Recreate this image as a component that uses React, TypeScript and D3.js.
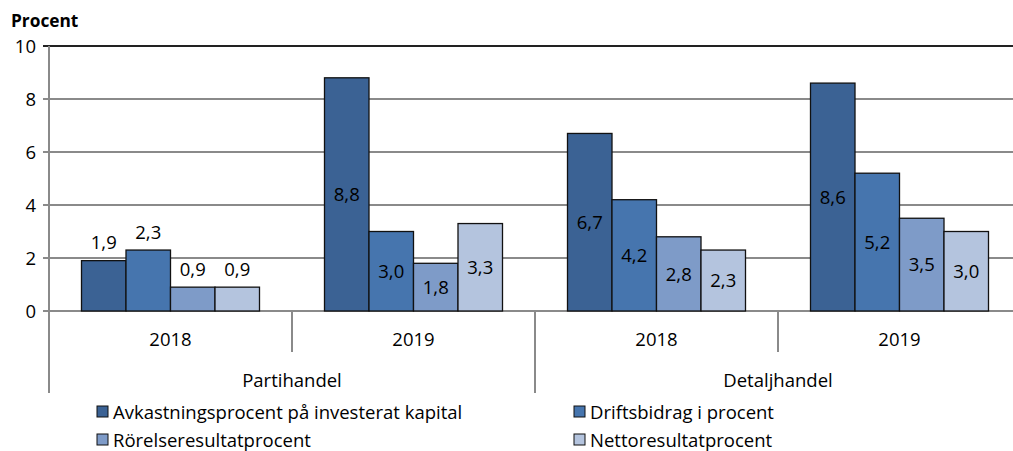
import React, { useEffect, useRef } from "react";
import * as d3 from "d3";

const industries = ["Partihandel", "Detaljhandel"];
const years = ["2018", "2019"];
const seriesNames = [
  "Avkastningsprocent på investerat kapital",
  "Driftsbidrag i procent",
  "Rörelseresultatprocent",
  "Nettoresultatprocent",
];
// values per group: [Partihandel 2018, Partihandel 2019, Detaljhandel 2018, Detaljhandel 2019]
const avkastning = [1.9, 8.8, 6.7, 8.6];
const driftsbidrag = [2.3, 3.0, 4.2, 5.2];
const rorelse = [0.9, 1.8, 2.8, 3.5];
const netto = [0.9, 3.3, 2.3, 3.0];
const labelAbove = [true, false, false, false];
const yTicks = [0, 2, 4, 6, 8, 10];
const colors = ["#3B6294", "#4675AE", "#7E9BC8", "#B4C4DE"];

const W = 1013;
const H = 451;
const FONT = "'Open Sans', Lato, sans-serif";
const FS = 18.5;

export default function App() {
  const ref = useRef<SVGSVGElement>(null);
  useEffect(() => {
    const svg = d3.select(ref.current);
    svg.selectAll("*").remove();
    const left = 49, right = 1021, top = 46, bottom = 311;
    const series = [avkastning, driftsbidrag, rorelse, netto];
    const groups = industries.flatMap((ind) => years.map((y) => ind + "|" + y));
    const x0 = d3.scaleBand().domain(groups).range([left, right]).paddingInner(0).paddingOuter(0);
    const barW = 44.5;
    const y = d3.scaleLinear().domain([0, 10]).range([bottom, top]);

    // gridlines
    yTicks.forEach((t) => {
      svg.append("line")
        .attr("x1", left - 6).attr("x2", right)
        .attr("y1", y(t)).attr("y2", y(t))
        .attr("stroke", t === 10 ? "#222" : "#8a8a8a")
        .attr("stroke-width", 2);
      svg.append("text")
        .attr("x", 36).attr("y", y(t))
        .attr("dy", "0.36em")
        .attr("text-anchor", "end")
        .attr("font-family", FONT).attr("font-size", FS)
        .attr("fill", "#000")
        .text(String(t));
    });
    svg.append("text").attr("x", 11).attr("y", 27)
      .attr("font-family", FONT).attr("font-size", 17.3).attr("font-weight", "bold")
      .text("Procent");

    // bars
    groups.forEach((g, gi) => {
      const cx = x0(g)! + x0.bandwidth() / 2;
      const start = cx - (barW * 4) / 2;
      series.forEach((s, si) => {
        const v = s[gi];
        const bx = start + si * barW;
        svg.append("rect")
          .attr("x", bx).attr("y", y(v))
          .attr("width", barW).attr("height", y(0) - y(v))
          .attr("fill", colors[si])
          .attr("stroke", "#111").attr("stroke-width", 1.3);
        const ly = labelAbove[gi] ? y(v) - 18 : (y(v) + y(0)) / 2;
        svg.append("text")
          .attr("x", bx + barW / 2).attr("y", ly)
          .attr("dy", "0.36em")
          .attr("text-anchor", "middle")
          .attr("font-family", FONT).attr("font-size", FS)
          .attr("fill", "#000")
          .text(d3.format(".1f")(v).replace(".", ","));
      });
      svg.append("text")
        .attr("x", cx).attr("y", 339).attr("dy", "0.36em")
        .attr("text-anchor", "middle")
        .attr("font-family", FONT).attr("font-size", FS)
        .text(g.split("|")[1]);
    });

    // axis lines
    svg.append("line").attr("x1", left).attr("x2", left).attr("y1", top).attr("y2", 393)
      .attr("stroke", "#8a8a8a").attr("stroke-width", 2);
    groups.forEach((g, gi) => {
      if (gi === 0) return;
      const xx = x0(g)!;
      const long = gi === 2;
      svg.append("line").attr("x1", xx).attr("x2", xx).attr("y1", bottom).attr("y2", long ? 393 : 352)
        .attr("stroke", "#8a8a8a").attr("stroke-width", 2);
    });
    industries.forEach((ind) => {
      const a = x0(ind + "|" + years[0])!;
      const b = x0(ind + "|" + years[1])! + x0.bandwidth();
      svg.append("text")
        .attr("x", (a + b) / 2).attr("y", 380).attr("dy", "0.36em")
        .attr("text-anchor", "middle")
        .attr("font-family", FONT).attr("font-size", FS)
        .text(ind);
    });

    // legend
    const legPos = [[97, 412], [574, 412], [97, 440], [574, 440]];
    seriesNames.forEach((n, i) => {
      const [lx, ly] = legPos[i];
      svg.append("rect").attr("x", lx).attr("y", ly - 6).attr("width", 11).attr("height", 11)
        .attr("fill", colors[i]).attr("stroke", "#111").attr("stroke-width", 1);
      svg.append("text").attr("x", lx + 16).attr("y", ly).attr("dy", "0.36em")
        .attr("font-family", FONT).attr("font-size", FS)
        .text(n);
    });
  }, []);
  return (
    <svg ref={ref} width={W} height={H}
      style={{ position: "absolute", left: 0, top: 0, background: "#fff" }} />
  );
}
